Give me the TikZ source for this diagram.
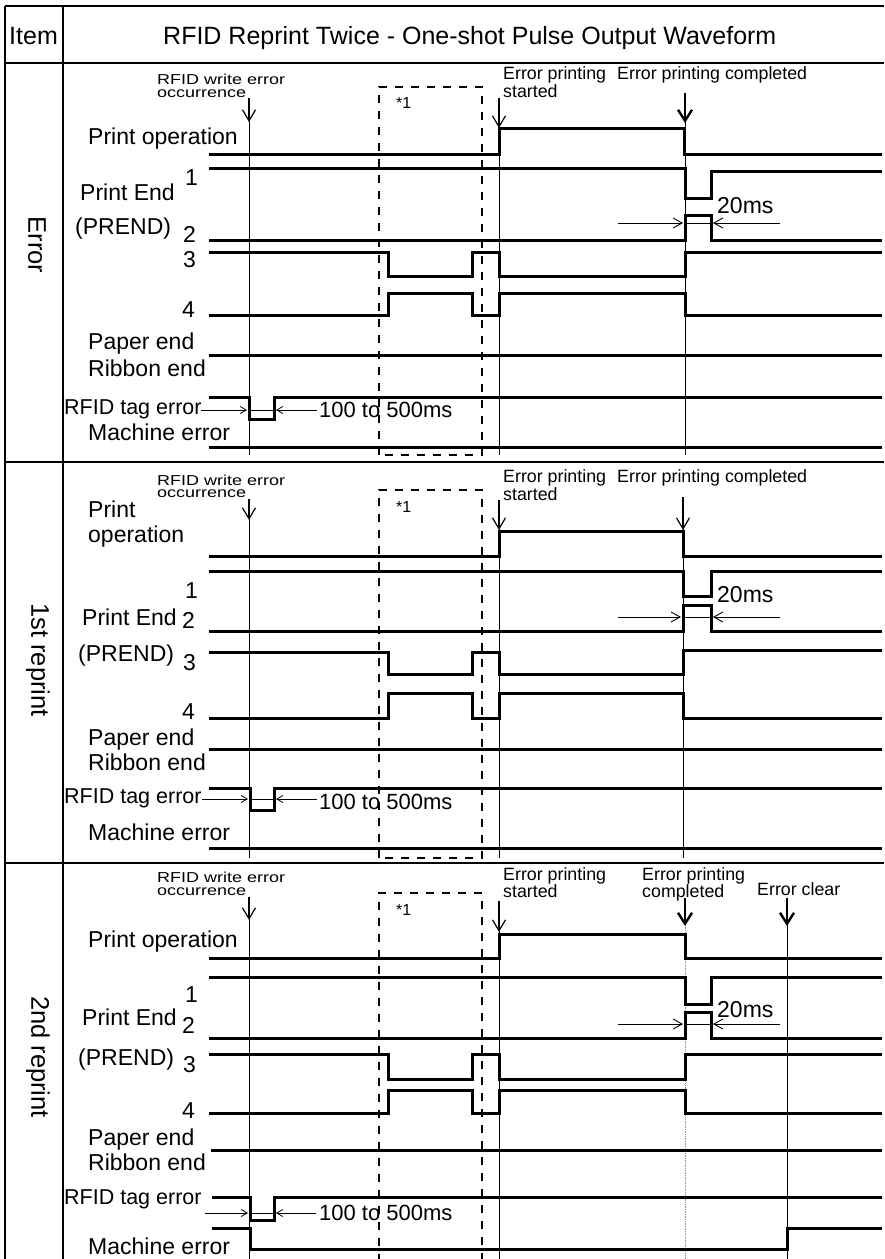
\documentclass[tikz,border=0pt]{standalone}
\usepackage{fontspec}
\setmainfont{Liberation Sans}
\usetikzlibrary{arrows.meta}
\newcommand{\squash}[1]{\scalebox{1}[0.8]{#1}}
\begin{document}
\begin{tikzpicture}[x=1pt,y=-1pt,
  wave/.style={line width=3pt, line join=miter},
  tline/.style={line width=1.3pt},
  markline/.style={line width=0.9pt},
  faintline/.style={line width=0.7pt, draw=black!45, densely dotted},
  dbox/.style={line width=1.3pt, dash pattern=on 8pt off 8pt},
  evarrow/.style={line width=1.2pt, -{Straight Barb[length=11pt,width=13pt,line width=1.2pt]}},
  evbold/.style={line width=2.4pt, -{Straight Barb[length=11pt,width=14pt,line width=2.4pt]}},
  dimarrow/.style={line width=0.9pt, -{Straight Barb[length=9pt,width=10pt,line width=0.9pt]}},
  tagarrow/.style={line width=0.8pt, -{Straight Barb[length=6pt,width=7pt,line width=0.8pt]}},
  lbl/.style={inner sep=0pt, anchor=base west, font=\fontsize{23}{23}\selectfont},
  tagl/.style={inner sep=0pt, anchor=base west, font=\fontsize{21.5}{21.5}\selectfont},
  sml/.style={inner sep=0pt, anchor=base west, font=\fontsize{17.8}{17.8}\selectfont},
  rwe/.style={inner sep=0pt, anchor=base west, font=\fontsize{18}{18}\selectfont},
  star/.style={inner sep=0pt, anchor=base west, font=\fontsize{16}{16}\selectfont},
  sec/.style={inner sep=0pt, rotate=-90, font=\fontsize{25.5}{25.5}\selectfont},
  ttl/.style={inner sep=0pt, anchor=base west, font=\fontsize{25}{25}\selectfont},
]
\useasboundingbox (0,0) rectangle (884,1259);

% ---------- table ----------
\draw[tline] (5,6) -- (884,6);
\draw[tline] (5,6) -- (5,1259);
\draw[tline] (63,6) -- (63,1259);
\draw[tline] (5,63) -- (884,63);
\draw[tline] (5,462) -- (884,462);
\draw[tline] (5,863) -- (884,863);
\node[ttl] (item) at (9,44) {Item};
\node[ttl] (title) at (163,44) {RFID Reprint Twice - One-shot Pulse Output Waveform};
\node[sec] (secA) at (37,245) {Error};
\node[sec] (secB) at (38,660) {1st reprint};
\node[sec] (secC) at (38,1057) {2nd reprint};

% ================= Section A: Error =================
\draw[dbox] (379,455) -- (379,87) -- (482,87) -- (482,455) -- cycle;
\node[star] (a_star) at (396,108) {*1};
\node[rwe] (a_rw1) at (157,84) {\squash{RFID write error}};
\node[rwe] (a_rw2) at (157,97) {\squash{occurrence}};
\node[sml] (a_es1) at (503,79) {Error printing};
\node[sml] (a_es2) at (503,97) {started};
\node[sml] (a_ec) at (617,79) {Error printing completed};
% markers
\draw[markline] (249,120) -- (249,455);
\draw[evarrow, line width=1.5pt] (249,98) -- (249,122);
\draw[markline] (499,126) -- (499,455);
\draw[evarrow] (499,98) -- (499,128);
\draw[markline] (685,120) -- (685,455);
\draw[evbold] (685,93) -- (685,123);
% labels
\node[lbl] (a_po) at (88,144) {Print operation};
\node[lbl] (a_n1) at (185,185) {1};
\node[lbl] (a_pe) at (80,200) {Print End};
\node[lbl] (a_pr) at (75,234) {(PREND)};
\node[lbl] (a_n2) at (183,242) {2};
\node[lbl] (a_n3) at (183,267) {3};
\node[lbl] (a_n4) at (182,317) {4};
\node[lbl] (a_pa) at (88,349) {Paper end};
\node[lbl] (a_ri) at (88,376) {Ribbon end};
\node[tagl] (a_tg) at (64,414) {RFID tag error};
\node[lbl] (a_me) at (88,440) {Machine error};
\node[lbl] (a_20) at (717,213) {20ms};
\node[lbl, font=\fontsize{22}{22}\selectfont] (a_100) at (319,417) {100 to 500ms};
% waves
\draw[wave] (209,154) -- (499,154) -- (499,128) -- (684,128) -- (684,154) -- (882,154);
\draw[wave] (209,168) -- (685,168) -- (685,198) -- (711,198) -- (711,171) -- (882,171);
\draw[wave] (209,240) -- (685,240) -- (685,215) -- (711,215) -- (711,240) -- (882,240);
\draw[wave] (209,252) -- (388,252) -- (388,276) -- (472,276) -- (472,252) -- (499,252) -- (499,276) -- (685,276) -- (685,252) -- (882,252);
\draw[wave] (209,315) -- (388,315) -- (388,293) -- (472,293) -- (472,315) -- (499,315) -- (499,293) -- (685,293) -- (685,315) -- (882,315);
\draw[wave] (209,355) -- (882,355);
\draw[wave] (209,397) -- (249,397) -- (249,419) -- (274,419) -- (274,397) -- (882,397);
\draw[wave] (209,447) -- (882,447);
% dimensions
\draw[dimarrow] (618,223) -- (683,223);
\draw[dimarrow] (780,223) -- (713,223);
\draw[markline, line width=0.6pt] (685,223) -- (711,223);
\draw[tagarrow] (201,410) -- (247,410);
\draw[tagarrow] (317,410) -- (276,410);
\draw[markline, line width=0.6pt] (249,410) -- (274,410);

% ================= Section B: 1st reprint =================
\draw[dbox] (379,858) -- (379,490) -- (482,490) -- (482,858) -- cycle;
\node[star] (b_star) at (396,512) {*1};
\node[rwe] (b_rw1) at (157,485) {\squash{RFID write error}};
\node[rwe] (b_rw2) at (157,497.5) {\squash{occurrence}};
\node[sml] (b_es1) at (503,482) {Error printing};
\node[sml] (b_es2) at (503,500) {started};
\node[sml] (b_ec) at (617,482) {Error printing completed};
\draw[markline] (249,518) -- (249,858);
\draw[evarrow] (249,499) -- (249,520);
\draw[markline] (499,528) -- (499,858);
\draw[evarrow] (499,500) -- (499,530);
\draw[markline] (683,528) -- (683,858);
\draw[evarrow] (683,497) -- (683,530);
\node[lbl] (b_p1) at (88,517) {Print};
\node[lbl] (b_p2) at (88,542) {operation};
\node[lbl] (b_n1) at (185,598) {1};
\node[lbl] (b_pe) at (82,625) {Print End};
\node[lbl] (b_n2) at (182,628) {2};
\node[lbl] (b_pr) at (78,661) {(PREND)};
\node[lbl] (b_n3) at (183,670) {3};
\node[lbl] (b_n4) at (182,719) {4};
\node[lbl] (b_pa) at (88,745) {Paper end};
\node[lbl] (b_ri) at (88,770) {Ribbon end};
\node[tagl] (b_tg) at (64,803) {RFID tag error};
\node[lbl] (b_me) at (88,840) {Machine error};
\node[lbl] (b_20) at (717,602) {20ms};
\node[lbl, font=\fontsize{22}{22}\selectfont] (b_100) at (319,809) {100 to 500ms};
\draw[wave] (209,556) -- (499,556) -- (499,531) -- (683,531) -- (683,556) -- (882,556);
\draw[wave] (209,571) -- (683,571) -- (683,596) -- (711,596) -- (711,571) -- (882,571);
\draw[wave] (209,631) -- (683,631) -- (683,605) -- (711,605) -- (711,631) -- (882,631);
\draw[wave] (209,652) -- (388,652) -- (388,674) -- (472,674) -- (472,652) -- (499,652) -- (499,674) -- (683,674) -- (683,650) -- (882,650);
\draw[wave] (209,718) -- (388,718) -- (388,693) -- (472,693) -- (472,718) -- (499,718) -- (499,693) -- (683,693) -- (683,718) -- (882,718);
\draw[wave] (209,749) -- (882,749);
\draw[wave] (209,788) -- (250,788) -- (250,810) -- (274,810) -- (274,788) -- (882,788);
\draw[wave] (209,848) -- (882,848);
\draw[dimarrow] (618,617) -- (681,617);
\draw[dimarrow] (780,617) -- (713,617);
\draw[markline, line width=0.6pt] (683,617) -- (711,617);
\draw[tagarrow] (202,799) -- (248,799);
\draw[tagarrow] (317,799) -- (276,799);
\draw[markline, line width=0.6pt] (250,799) -- (274,799);

% ================= Section C: 2nd reprint =================
\draw[dbox] (379,1262) -- (379,893) -- (482,893) -- (482,1262);
\node[star] (c_star) at (396,915) {*1};
\node[rwe] (c_rw1) at (157,882) {\squash{RFID write error}};
\node[rwe] (c_rw2) at (157,895) {\squash{occurrence}};
\node[sml] (c_es1) at (503,880) {Error printing};
\node[sml] (c_es2) at (503,897) {started};
\node[sml] (c_ec1) at (642,880) {Error printing};
\node[sml] (c_ec2) at (642,897) {completed};
\node[sml] (c_cl) at (757,895) {Error clear};
\draw[markline] (249,918) -- (249,1259);
\draw[evarrow] (249,897) -- (249,920);
\draw[markline] (499,930) -- (499,1259);
\draw[evarrow] (499,901) -- (499,932);
\draw[faintline] (685,925) -- (685,1259);
\draw[evbold] (685,898) -- (685,926);
\draw[markline] (787,922) -- (787,1259);
\draw[evbold] (787,898) -- (787,926);
\node[lbl] (c_po) at (88,947) {Print operation};
\node[lbl] (c_n1) at (185,1002) {1};
\node[lbl] (c_pe) at (82,1025) {Print End};
\node[lbl] (c_n2) at (182,1033) {2};
\node[lbl] (c_pr) at (78,1065) {(PREND)};
\node[lbl] (c_n3) at (183,1072) {3};
\node[lbl] (c_n4) at (182,1118) {4};
\node[lbl] (c_pa) at (88,1145) {Paper end};
\node[lbl] (c_ri) at (88,1170) {Ribbon end};
\node[tagl] (c_tg) at (64,1204) {RFID tag error};
\node[lbl] (c_me) at (88,1254) {Machine error};
\node[lbl] (c_20) at (717,1017) {20ms};
\node[lbl, font=\fontsize{22}{22}\selectfont] (c_100) at (319,1220) {100 to 500ms};
\draw[wave] (209,958) -- (499,958) -- (499,934) -- (685,934) -- (685,958) -- (882,958);
\draw[wave] (209,977) -- (685,977) -- (685,1004) -- (711,1004) -- (711,977) -- (882,977);
\draw[wave] (209,1038) -- (685,1038) -- (685,1012) -- (711,1012) -- (711,1038) -- (882,1038);
\draw[wave] (209,1054) -- (388,1054) -- (388,1079) -- (472,1079) -- (472,1054) -- (499,1054) -- (499,1079) -- (685,1079) -- (685,1054) -- (882,1054);
\draw[wave] (209,1113) -- (388,1113) -- (388,1090) -- (472,1090) -- (472,1113) -- (499,1113) -- (499,1090) -- (685,1090) -- (685,1113) -- (882,1113);
\draw[wave] (211,1150) -- (882,1150);
\draw[wave] (212,1197) -- (250,1197) -- (250,1220) -- (274,1220) -- (274,1197) -- (882,1197);
\draw[wave] (212,1228) -- (250,1228) -- (250,1249) -- (787,1249) -- (787,1228) -- (882,1228);
\draw[dimarrow] (618,1024) -- (683,1024);
\draw[dimarrow] (780,1024) -- (713,1024);
\draw[markline, line width=0.6pt] (685,1024) -- (711,1024);
\draw[tagarrow] (205,1213) -- (248,1213);
\draw[tagarrow] (316,1213) -- (276,1213);
\draw[markline, line width=0.6pt] (250,1213) -- (274,1213);
\end{tikzpicture}
\end{document}
